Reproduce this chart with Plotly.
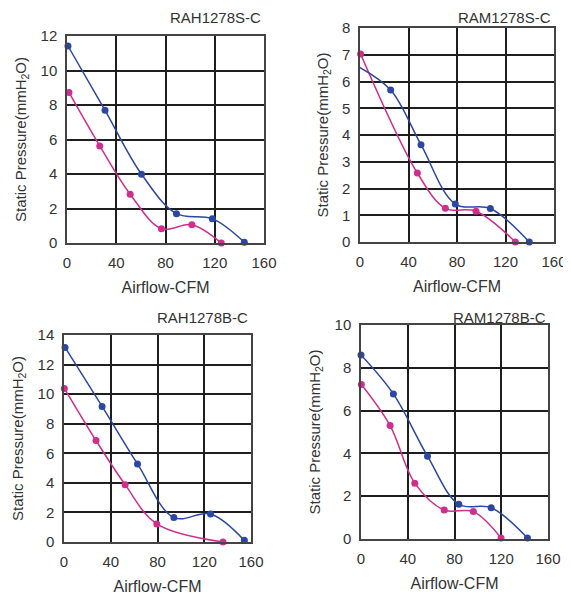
import plotly.graph_objects as go

# ---------------- data ----------------
titles = ["RAH1278S-C", "RAM1278S-C", "RAH1278B-C", "RAM1278B-C"]
y_max = [12, 8, 14, 10]
y_dtick = [2, 1, 2, 2]
x_ticks = [0, 40, 80, 120, 160]

# Panel 1 RAH1278S-C
p1_blue_x = [0.8, 30.9, 60.5, 88.9, 118.0, 144.0]
p1_blue_y = [11.42, 7.69, 3.99, 1.70, 1.41, 0.04]
p1_mag_x = [1.6, 26.6, 51.3, 76.7, 101.4, 125.3]
p1_mag_y = [8.73, 5.63, 2.83, 0.83, 1.06, 0.0]

# Panel 2 RAM1278S-C
p2_blue_x = [-0.3, 25.3, 50.3, 78.6, 107.5, 139.6]
p2_blue_y = [6.53, 5.68, 3.64, 1.42, 1.25, 0.0]
p2_mag_x = [0.5, 47.3, 70.4, 95.7, 128.1]
p2_mag_y = [7.03, 2.58, 1.26, 1.15, 0.0]

# Panel 3 RAH1278B-C
p3_blue_x = [0.9, 32.6, 62.9, 94.0, 125.4, 154.3]
p3_blue_y = [13.16, 9.17, 5.28, 1.65, 1.90, 0.11]
p3_mag_x = [0.3, 27.4, 52.3, 79.4, 136.0]
p3_mag_y = [10.39, 6.86, 3.88, 1.22, 0.0]

# Panel 4 RAM1278B-C
p4_blue_x = [0.0, 27.7, 56.9, 83.7, 111.4, 142.4]
p4_blue_y = [8.60, 6.78, 3.87, 1.62, 1.46, 0.05]
p4_mag_x = [0.3, 24.9, 46.0, 71.2, 96.1, 119.8]
p4_mag_y = [7.22, 5.30, 2.61, 1.35, 1.28, 0.05]

blue_x = [p1_blue_x, p2_blue_x, p3_blue_x, p4_blue_x]
blue_y = [p1_blue_y, p2_blue_y, p3_blue_y, p4_blue_y]
mag_x = [p1_mag_x, p2_mag_x, p3_mag_x, p4_mag_x]
mag_y = [p1_mag_y, p2_mag_y, p3_mag_y, p4_mag_y]

# ---------------- layout ----------------
OFF = 8  # default page body margin
W, H = 571 - OFF, 595 - OFF
# pixel boxes in the window: left, right, top, bottom
boxes = [(67, 264, 36, 243), (360, 554, 28, 242), (64, 251, 335, 542), (361, 548, 325, 539)]
# title anchor (right edge x, centre y) in the window
title_pos = [(263, 17), (553, 17), (250, 317), (548, 317)]

BLUE = "#2b47a3"
MAG = "#cf2e8f"
FONT = "Liberation Sans, Arial, sans-serif"
TXT = "#333333"

fig = go.Figure()
layout = dict(
    width=W, height=H,
    margin=dict(l=0, r=0, t=0, b=0),
    paper_bgcolor="white", plot_bgcolor="white",
    showlegend=False,
    font=dict(family=FONT, size=14, color=TXT),
)
annotations = []
for i in range(4):
    l, r, t, b = [v - OFF for v in boxes[i]]
    tx, ty = [v - OFF for v in title_pos[i]]
    xs = "" if i == 0 else str(i + 1)
    xa, ya = "x" + xs, "y" + xs
    common = dict(
        showgrid=True, gridcolor="#1e1e1e", gridwidth=2,
        showline=True, linecolor="#444444", linewidth=1.5, mirror=True,
        zeroline=False, ticks="outside", ticklen=5, tickcolor="rgba(0,0,0,0)",
        tickfont=dict(family=FONT, size=15, color=TXT), fixedrange=True,
        automargin=False,
    )
    layout["xaxis" + xs] = dict(
        common, domain=[l / W, r / W], anchor=ya, range=[0, 160],
        tickvals=x_ticks,
        title=dict(text="Airflow-CFM", font=dict(family=FONT, size=16, color=TXT), standoff=12),
    )
    layout["yaxis" + xs] = dict(
        common, domain=[1 - b / H, 1 - t / H], anchor=xa, range=[0, y_max[i]],
        dtick=y_dtick[i], tick0=0,
        title=dict(text="Static Pressure(mmH<sub>2</sub>O)", font=dict(family=FONT, size=15, color=TXT), standoff=10),
    )
    annotations.append(dict(
        text=titles[i], xref="paper", yref="paper", x=tx / W, y=1 - ty / H,
        xanchor="right", yanchor="middle", showarrow=False,
        font=dict(family=FONT, size=15, color=TXT),
    ))
    for xv, yv, col in ((mag_x[i], mag_y[i], MAG), (blue_x[i], blue_y[i], BLUE)):
        fig.add_trace(go.Scatter(
            x=xv, y=yv, xaxis=xa, yaxis=ya, mode="lines+markers",
            line=dict(color=col, width=1.5, shape="spline", smoothing=1.0),
            marker=dict(color=col, size=7), cliponaxis=False,
        ))

layout["annotations"] = annotations
fig.update_layout(**layout)
fig.write_html("out.html")
